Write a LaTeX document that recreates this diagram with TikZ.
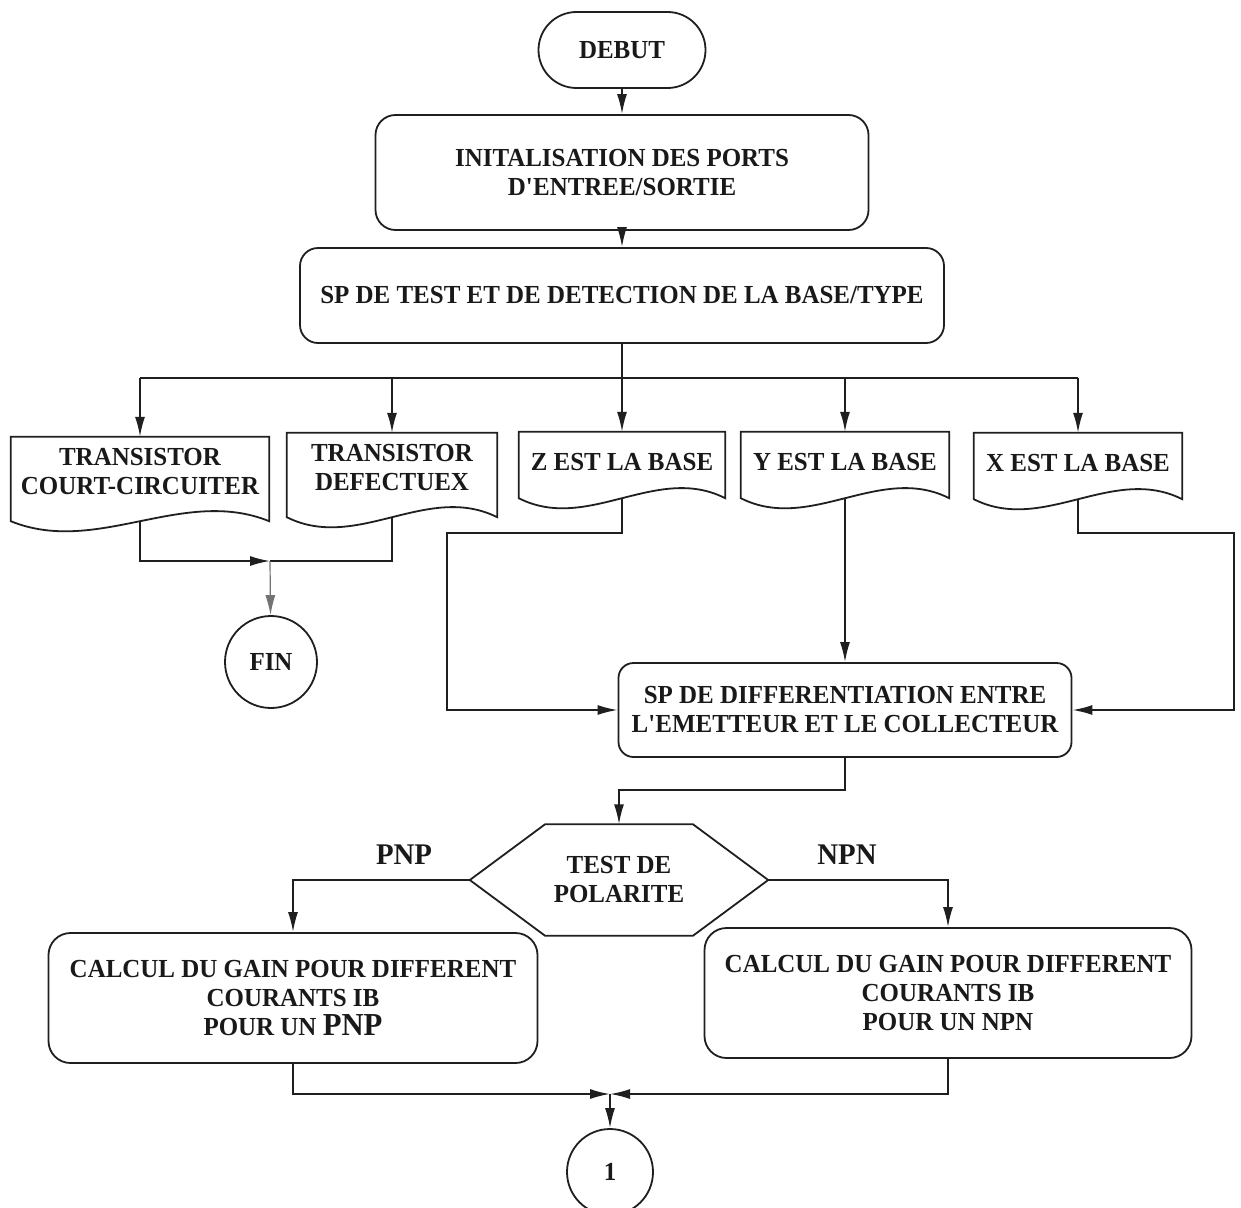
\documentclass[tikz,border=0pt]{standalone}
\usepackage{fontspec}
\setmainfont{Liberation Serif}[FakeStretch=0.96]
\usetikzlibrary{arrows.meta,shapes.misc,calc}

\tikzset{
  conn/.style={line width=1.8pt, draw=black!88},
  arr/.style={conn, -{Latex[length=20pt,width=10pt]}},
  txt/.style={font=\fontsize{26}{29}\selectfont\bfseries, align=center, inner sep=0pt, text=black!90},
  rbox/.style={txt, conn, rectangle, rounded corners=#1},
  rbox/.default=18pt,
  docbox/.style={txt, rectangle},
  lbl/.style={font=\fontsize{30}{32}\selectfont\bfseries, inner sep=0pt, text=black!90},
}

% outline of a document symbol around a text node: flat top, wavy bottom
\newcommand\docoutline[2]{%
  \draw[conn] (#1.north west) -- (#1.north east) -- ([yshift=-#2]#1.south east)
    .. controls ($([yshift=-#2]#1.south east)!0.333!([yshift=-#2]#1.south west)+(0pt,35pt)$)
    and ($([yshift=-#2]#1.south east)!0.667!([yshift=-#2]#1.south west)+(0pt,-35pt)$)
    .. ([yshift=-#2]#1.south west) -- cycle;
  \coordinate (#1-out) at ([yshift=-#2]#1.south);
}

\begin{document}
\begin{tikzpicture}[x=1pt,y=-1pt]
\useasboundingbox[fill=white] (0,0) rectangle (1241,1207);

% main chain
\node[txt, conn, rounded rectangle, minimum width=167pt, minimum height=76pt] (debut) at (622,50) {DEBUT};
\node[rbox=20pt, minimum width=493pt, minimum height=115pt] (init) at (622,172.5)
  {INITALISATION DES PORTS\\D\textquotesingle ENTREE/SORTIE};
\node[rbox=18pt, minimum width=644pt, minimum height=95pt] (sp) at (622,295.5)
  {SP DE TEST ET DE DETECTION DE LA BASE/TYPE};

% results of the base test
\node[docbox, minimum width=258pt, minimum height=70pt] (tc) at (140,472) {TRANSISTOR\\COURT-CIRCUITER};
\node[docbox, minimum width=210pt, minimum height=70pt] (td) at (392,468) {TRANSISTOR\\DEFECTUEX};
\node[docbox, minimum width=206pt, minimum height=60pt] (zb) at (622,462) {Z EST LA BASE};
\node[docbox, minimum width=208pt, minimum height=60pt] (yb) at (845,462) {Y EST LA BASE};
\node[docbox, minimum width=208pt, minimum height=60pt] (xb) at (1078,463) {X EST LA BASE};
\docoutline{tc}{14pt}
\docoutline{td}{14pt}
\docoutline{zb}{6pt}
\docoutline{yb}{6pt}
\docoutline{xb}{6pt}

\node[txt, conn, circle, minimum size=92pt] (fin) at (271,662) {FIN};

\node[rbox=15pt, minimum width=453pt, minimum height=94pt] (diff) at (845,710)
  {SP DE DIFFERENTIATION ENTRE\\L\textquotesingle EMETTEUR ET LE COLLECTEUR};

% polarity test
\node[txt, minimum width=298pt, minimum height=111pt] (hex) at (619,880) {TEST DE\\POLARITE};
\draw[conn] (hex.west) -- ([xshift=-74pt]hex.north) -- ([xshift=74pt]hex.north)
  -- (hex.east) -- ([xshift=74pt]hex.south) -- ([xshift=-74pt]hex.south) -- cycle;
\node[lbl] (lpnp) at (404,855) {PNP};
\node[lbl] (lnpn) at (847,855) {NPN};

\node[rbox=22pt, minimum width=489pt, minimum height=130pt] (pnp) at (293,998)
  {CALCUL DU GAIN POUR DIFFERENT\\COURANTS IB\\POUR UN {\fontsize{32}{29}\selectfont PNP}};
\node[rbox=22pt, minimum width=487pt, minimum height=130pt] (npn) at (948,993)
  {CALCUL DU GAIN POUR DIFFERENT\\COURANTS IB\\POUR UN NPN};

\node[txt, conn, circle, minimum size=86pt] (one) at (610,1172) {1};

% connectors
\draw[arr] (debut) -- (init);
\draw[arr] (init) -- (sp);
\coordinate (split) at (622,378);
\draw[conn] (sp.south) -- (split);
\draw[conn] (tc.north |- split) -- (xb.north |- split);
\draw[arr] (tc.north |- split) -- (tc.north);
\draw[arr] (td.north |- split) -- (td.north);
\draw[arr] (split) -- (zb.north);
\draw[arr] (yb.north |- split) -- (yb.north);
\draw[arr] (xb.north |- split) -- (xb.north);

\coordinate (j1) at (270,561);
\draw[arr] (tc-out) |- (j1);
\draw[conn] (td-out) |- (j1);
\draw[arr, draw=black!55, line width=1.2pt] (j1) -- (fin);

\coordinate (zl) at (447,533);
\draw[arr] (zb-out) |- (zl) |- (diff.west);
\draw[arr] (yb-out) -- (diff.north);
\coordinate (xr) at (1234,533);
\draw[arr] (xb-out) |- (xr) |- (diff.east);

\draw[arr] (diff.south) -- ++(0,32) -| (hex.north);
\draw[arr] (hex.west) -| (pnp.north);
\draw[arr] (hex.east) -| (npn.north);

\coordinate (j2) at (610,1094);
\draw[arr] (pnp.south) |- (j2);
\draw[arr] (npn.south) |- (j2);
\draw[arr] (j2) -- (one);
\end{tikzpicture}
\end{document}
